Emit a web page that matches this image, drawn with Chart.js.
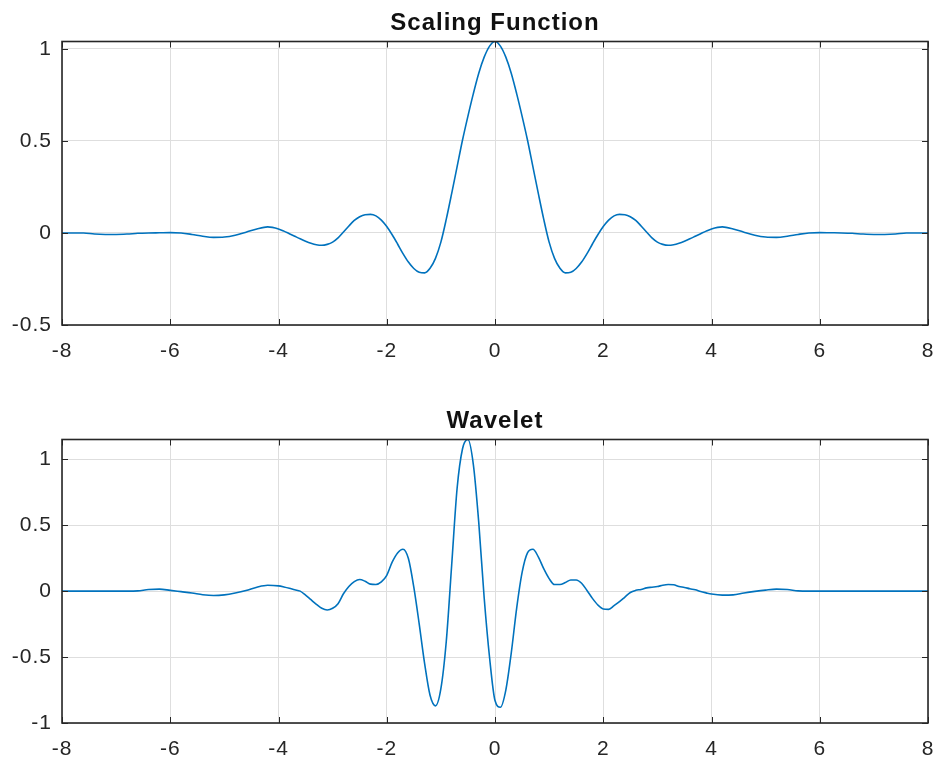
<!DOCTYPE html>
<html lang="en">
<head>
    <meta charset="UTF-8">
    <title>Scaling Function / Wavelet</title>
    <style>
        body { margin: 0; background: #fff; }
        .plot { position: absolute; left: 0; width: 940px; height: 365px; }
        #plotTop { top: 0; }
        #plotBottom { top: 398px; }
    </style>
</head>
<body>
    <div class="plot" id="plotTop"><canvas id="phiChart" width="940" height="365"></canvas></div>
    <div class="plot" id="plotBottom"><canvas id="psiChart" width="940" height="365"></canvas></div>

<script src="https://cdn.jsdelivr.net/npm/chart.js"></script>
<script>
    // sample positions (shared by both curves)
    const xGrid = [
        -8, -7.8, -7.6, -7.4, -7.2, -7, -6.8, -6.6, -6.4, -6.2, -6, -5.8, -5.6, -5.4, -5.2, -5, -4.8, -4.6, -4.4, -4.2,
        -4, -3.9, -3.8, -3.7, -3.6, -3.5, -3.4, -3.3, -3.2, -3.1,
        -3, -2.9, -2.8, -2.7, -2.6, -2.5, -2.4, -2.3, -2.2, -2.1,
        -2, -1.9, -1.8, -1.7, -1.6, -1.5, -1.4, -1.3, -1.2, -1.1,
        -1, -0.9, -0.8, -0.7, -0.6, -0.5, -0.4, -0.3, -0.2, -0.1,
        0,
        0.1, 0.2, 0.3, 0.4, 0.5, 0.6, 0.7, 0.8, 0.9, 1,
        1.1, 1.2, 1.3, 1.4, 1.5, 1.6, 1.7, 1.8, 1.9, 2,
        2.1, 2.2, 2.3, 2.4, 2.5, 2.6, 2.7, 2.8, 2.9, 3,
        3.1, 3.2, 3.3, 3.4, 3.5, 3.6, 3.7, 3.8, 3.9, 4,
        4.2, 4.4, 4.6, 4.8, 5, 5.2, 5.4, 5.6, 5.8, 6, 6.2, 6.4, 6.6, 6.8, 7, 7.2, 7.4, 7.6, 7.8, 8
    ];

    // scaling function values
    const phiValues = [
        0, 0, 0, -0.006, -0.008, -0.008, -0.006, -0.002, 0, 0.001, 0.002, 0, -0.008, -0.018, -0.024, -0.022, -0.012, 0.004, 0.022, 0.033,
        0.022, 0.01, -0.004, -0.018, -0.032, -0.045, -0.056, -0.064, -0.067, -0.062,
        -0.05, -0.027, 0.005, 0.038, 0.068, 0.088, 0.099, 0.101, 0.093, 0.07,
        0.035, -0.01, -0.06, -0.112, -0.158, -0.193, -0.214, -0.217, -0.192, -0.138,
        -0.05, 0.075, 0.215, 0.36, 0.505, 0.635, 0.757, 0.868, 0.955, 1.015,
        1.04,
        1.015, 0.955, 0.868, 0.757, 0.635, 0.505, 0.36, 0.215, 0.075, -0.05,
        -0.138, -0.192, -0.217, -0.214, -0.193, -0.158, -0.112, -0.06, -0.01, 0.035,
        0.07, 0.093, 0.101, 0.099, 0.088, 0.068, 0.038, 0.005, -0.027, -0.05,
        -0.062, -0.067, -0.064, -0.056, -0.045, -0.032, -0.018, -0.004, 0.01, 0.022,
        0.033, 0.022, 0.004, -0.012, -0.022, -0.024, -0.018, -0.008, 0, 0.002, 0.001, 0, -0.002, -0.006, -0.008, -0.008, -0.006, 0, 0, 0
    ];

    // wavelet values
    const psiValues = [
        0, 0, 0, 0, 0, 0, 0, 0.002, 0.012, 0.015, 0.006, -0.004, -0.014, -0.027, -0.033, -0.028, -0.014, 0.005, 0.03, 0.045,
        0.04, 0.032, 0.022, 0.01, 0, -0.03, -0.065, -0.1, -0.13, -0.143,
        -0.13, -0.095, -0.02, 0.035, 0.072, 0.088, 0.075, 0.053, 0.05, 0.07,
        0.12, 0.22, 0.29, 0.318, 0.247, 0.03, -0.25, -0.55, -0.79, -0.87,
        -0.74, -0.38, 0.2, 0.78, 1.08, 1.15, 0.96, 0.52, -0.05, -0.505,
        -0.83,
        -0.88, -0.75, -0.47, -0.13, 0.14, 0.29, 0.318, 0.26, 0.17, 0.095,
        0.05, 0.05, 0.065, 0.085, 0.085, 0.06, 0.005, -0.055, -0.105, -0.135,
        -0.138, -0.11, -0.08, -0.045, -0.01, 0.006, 0.013, 0.025, 0.03, 0.035,
        0.045, 0.05, 0.048, 0.035, 0.028, 0.018, 0.01, -0.003, -0.013, -0.022,
        -0.03, -0.028, -0.014, -0.002, 0.008, 0.015, 0.012, 0.002, 0, 0, 0, 0, 0, 0, 0, 0, 0, 0, 0, 0
    ];

    // tick labels
    const xTicks = [-8, -6, -4, -2, 0, 2, 4, 6, 8];
    const phiTicks = [-0.5, 0, 0.5, 1];
    const psiTicks = [-1, -0.5, 0, 0.5, 1];

    const FONT = '"Liberation Sans", Arial, Helvetica, sans-serif';
    const AXIS_COLOR = '#262626';
    const LINE_COLOR = '#0072BD';

    // matlab-like axes: box, inward ticks on all sides, title over the axes
    const matlabAxes = {
        id: 'matlabAxes',
        beforeDraw(chart) {
            chart.ctx.letterSpacing = '1px';
        },
        afterDraw(chart, args, opts) {
            const ctx = chart.ctx;
            const a = chart.chartArea;
            const x = chart.scales.x;
            const y = chart.scales.y;
            const tl = 6;
            ctx.save();
            ctx.strokeStyle = AXIS_COLOR;
            ctx.lineWidth = 1;
            ctx.beginPath();
            x.ticks.forEach(t => {
                const px = Math.round(x.getPixelForValue(t.value)) + 0.5;
                ctx.moveTo(px, a.bottom); ctx.lineTo(px, a.bottom - tl);
                ctx.moveTo(px, a.top); ctx.lineTo(px, a.top + tl);
            });
            y.ticks.forEach(t => {
                const py = Math.round(y.getPixelForValue(t.value)) + 0.5;
                ctx.moveTo(a.left, py); ctx.lineTo(a.left + tl, py);
                ctx.moveTo(a.right, py); ctx.lineTo(a.right - tl, py);
            });
            ctx.stroke();
            ctx.lineWidth = 1.6;
            ctx.strokeRect(a.left, a.top, a.right - a.left, a.bottom - a.top);

            ctx.fillStyle = '#111';
            ctx.font = 'bold 24px ' + FONT;
            ctx.textAlign = 'center';
            ctx.textBaseline = 'alphabetic';
            ctx.letterSpacing = '1px';
            ctx.fillText(opts.text, (a.left + a.right) / 2, 30);
            ctx.restore();
        }
    };

    function makePlot(canvasId, title, values, yMin, yMax, yTicks) {
        return new Chart(document.getElementById(canvasId), {
            type: 'line',
            data: {
                datasets: [{
                    data: xGrid.map((x, i) => ({ x: x, y: values[i] })),
                    borderColor: LINE_COLOR,
                    borderWidth: 1.6,
                    pointRadius: 0,
                    fill: false,
                    cubicInterpolationMode: 'monotone'
                }]
            },
            options: {
                responsive: false,
                animation: false,
                devicePixelRatio: 1,
                layout: { padding: { top: 41.5, right: 12, left: 0, bottom: 0 } },
                plugins: {
                    legend: { display: false },
                    tooltip: { enabled: false },
                    matlabAxes: { text: title }
                },
                scales: {
                    x: {
                        type: 'linear',
                        min: -8,
                        max: 8,
                        afterBuildTicks: s => { s.ticks = xTicks.map(v => ({ value: v })); },
                        afterFit: s => {
                            s.height = 40;
                            s.paddingLeft = 0;
                            s.paddingRight = 0;
                        },
                        border: { display: false },
                        grid: { color: '#dedede', lineWidth: 1, drawTicks: false },
                        ticks: {
                            padding: 14,
                            color: AXIS_COLOR,
                            maxRotation: 0,
                            autoSkip: false,
                            font: { family: FONT, size: 21 },
                            callback: v => String(v)
                        }
                    },
                    y: {
                        type: 'linear',
                        min: yMin,
                        max: yMax,
                        afterBuildTicks: s => { s.ticks = yTicks.map(v => ({ value: v })); },
                        afterFit: s => {
                            s.width = 62;
                            s.paddingTop = 0;
                            s.paddingBottom = 0;
                        },
                        border: { display: false },
                        grid: { color: '#dedede', lineWidth: 1, drawTicks: false },
                        ticks: {
                            padding: 10,
                            color: AXIS_COLOR,
                            autoSkip: false,
                            font: { family: FONT, size: 21 },
                            callback: v => String(v)
                        }
                    }
                }
            },
            plugins: [matlabAxes]
        });
    }

    makePlot('phiChart', 'Scaling Function', phiValues, -0.5, 1.04, phiTicks);
    makePlot('psiChart', 'Wavelet', psiValues, -1, 1.15, psiTicks);
</script>
</body>
</html>
